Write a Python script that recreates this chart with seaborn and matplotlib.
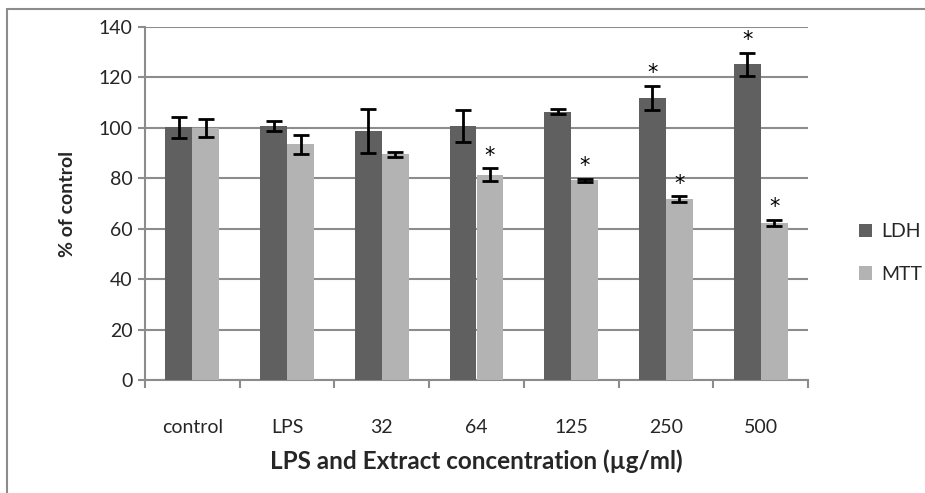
import pandas as pd
import numpy as np
import matplotlib
matplotlib.use("Agg")
import matplotlib.pyplot as plt
import seaborn as sns
from matplotlib.lines import Line2D

# data
categories = ['control', 'LPS', '32', '64', '125', '250', '500']
ldh = [100.2, 100.6, 98.8, 100.8, 106.3, 111.8, 125.2]
ldh_err = [4.2, 2.0, 8.7, 6.3, 1.0, 4.8, 4.5]
mtt = [100.0, 93.5, 89.6, 81.4, 79.2, 71.7, 62.4]
mtt_err = [3.5, 3.8, 1.0, 2.5, 0.5, 1.2, 1.2]
ldh_star = [False, False, False, False, False, True, True]
mtt_star = [False, False, False, True, True, True, True]

df = pd.DataFrame({
    'cat': categories * 2,
    'val': ldh + mtt,
    'grp': ['LDH'] * 7 + ['MTT'] * 7,
})

sns.set_theme(style="white")
plt.rcParams['font.family'] = ['Lato', 'DejaVu Sans']

fig = plt.figure(figsize=(9.25, 4.93), dpi=100)
ax = fig.add_axes([145 / 925, 1 - 380 / 493, 663 / 925, 353 / 493])

sns.barplot(data=df, x='cat', y='val', hue='grp', order=categories,
            palette={'LDH': '#606060', 'MTT': '#b3b3b3'},
            width=0.57, errorbar=None, ax=ax, zorder=3, linewidth=0)

# error bars + significance stars
for cont, vals, errs, stars in zip(ax.containers[:2], [ldh, mtt], [ldh_err, mtt_err],
                                   [ldh_star, mtt_star]):
    xs = [p.get_x() + p.get_width() / 2 for p in cont.patches]
    ax.errorbar(xs, vals, yerr=errs, fmt='none', ecolor='black',
                elinewidth=2, capsize=5.5, capthick=2, zorder=4)
    for x, v, e, s in zip(xs, vals, errs, stars):
        if s:
            ax.text(x, v + e + 5, '*', ha='center', va='center',
                    fontsize=15, color='black', family='DejaVu Sans')

ax.set_ylim(0, 140)
ax.set_xlim(-0.5, 6.5)
ax.set_yticks(np.arange(0, 141, 20))
ax.yaxis.grid(True, color='#8c8c8c', linewidth=1.5, zorder=0)
ax.set_axisbelow(True)
for s in ['top', 'right']:
    ax.spines[s].set_visible(False)
for s in ['left', 'bottom']:
    ax.spines[s].set_color('#8c8c8c')
    ax.spines[s].set_linewidth(1.5)

ax.set_xticks(range(7))
ax.set_xticklabels(categories)
ax.set_xticks(np.arange(-0.5, 7, 1), minor=True)
ax.tick_params(axis='x', which='major', length=0, pad=28, labelsize=14)
ax.tick_params(axis='x', which='minor', length=6, width=1.5, color='#8c8c8c',
               direction='out', bottom=True)
ax.tick_params(axis='y', length=5, width=1.5, color='#8c8c8c', direction='out',
               left=True, labelsize=14, pad=4)

ax.set_xlabel('LPS and Extract concentration (µg/ml)', fontsize=17.5,
              fontweight='bold', labelpad=10)
ax.set_ylabel('% of control', fontsize=14, fontweight='bold', labelpad=16)

ax.legend(loc='center left', bbox_to_anchor=(1.05, 0.36), frameon=False,
          fontsize=14, handlelength=0.7, handleheight=0.7, handletextpad=0.45,
          labelspacing=1.3)

# outer frame like the original figure
fig.add_artist(Line2D([7 / 925, 7 / 925], [0, 1 - 9 / 493], color='#8c8c8c',
                      linewidth=1.5, transform=fig.transFigure))
fig.add_artist(Line2D([7 / 925, 1], [1 - 9 / 493, 1 - 9 / 493], color='#8c8c8c',
                      linewidth=1.5, transform=fig.transFigure))

fig.savefig('out.png', dpi=100)
